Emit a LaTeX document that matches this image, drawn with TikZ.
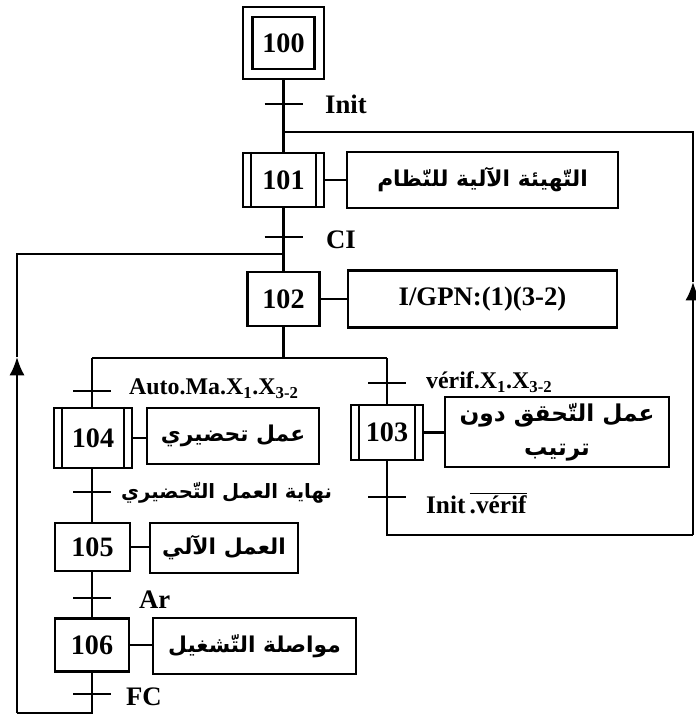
\documentclass[tikz,border=0pt]{standalone}
\usepackage{fontspec}
\setmainfont{Liberation Serif}
\newfontfamily\arabicfont[Script=Arabic]{DejaVu Sans}
\TeXXeTstate=1
\usetikzlibrary{arrows.meta}
\tikzset{>={Latex[length=0.46cm,width=0.38cm]}}

\begin{document}
\begin{tikzpicture}[x=0.025cm, y=-0.025cm, line width=1.6pt,
	etape/.style={draw, fill=white, inner sep=0pt, font=\fontsize{20}{22}\selectfont\bfseries},
	action/.style={draw, inner sep=0pt, align=center, font=\arabicfont\bfseries\fontsize{15.5}{22}\selectfont},
	recept/.style={anchor=west, inner sep=0pt, font=\fontsize{19}{22}\selectfont\bfseries}]

\def\px{0.025cm}
\def\hw{19}
\def\ins{9}

\useasboundingbox (0,0) rectangle (696,717);

% Steps
\node[etape, minimum width=81*\px, minimum height=72*\px] (s100o) at (283.5,43){};
\node[etape, minimum width=62*\px, minimum height=52*\px] (s100) at (283.5,43){100};
\node[etape, minimum width=81*\px, minimum height=54*\px] (s101) at (283.5,180){101};
\node[etape, minimum width=72*\px, minimum height=54*\px] (s102) at (283.5,299){102};
\node[etape, minimum width=72*\px, minimum height=55*\px] (s103) at (387,432.5){103};
\node[etape, minimum width=78*\px, minimum height=60*\px] (s104) at (93,438){104};
\node[etape, minimum width=75*\px, minimum height=48*\px] (s105) at (92.5,547){105};
\node[etape, minimum width=74*\px, minimum height=53*\px] (s106) at (92,645){106};

\foreach \s in {s101,s103,s104}{
	\draw ([xshift=\ins*\px]\s.north west) -- ([xshift=\ins*\px]\s.south west);
	\draw ([xshift=-\ins*\px]\s.north east) -- ([xshift=-\ins*\px]\s.south east);
}

% Actions
\node[action, minimum width=271*\px, minimum height=56*\px] (a101) at (482.5,180){\beginR التّهيئة الآلية للنّظام\endR};
\node[action, minimum width=269*\px, minimum height=57*\px, font=\fontsize{19}{22}\selectfont\bfseries] (a102) at (482.5,299){I/GPN:(1)(3-2)};
\node[action, minimum width=224*\px, minimum height=70*\px, font=\arabicfont\bfseries\fontsize{16.5}{24}\selectfont] (a103) at (557,432){\beginR عمل التّحقق دون\endR\\\beginR ترتيب\endR};
\node[action, minimum width=172*\px, minimum height=56*\px] (a104) at (233,436){\beginR عمل تحضيري\endR};
\node[action, minimum width=148*\px, minimum height=50*\px] (a105) at (224,548){\beginR العمل الآلي\endR};
\node[action, minimum width=203*\px, minimum height=56*\px] (a106) at (254.5,646){\beginR مواصلة التّشغيل\endR};

\foreach \s/\a in {s101/a101,s102/a102,s103/a103,s104/a104,s105/a105,s106/a106}{
	\draw (\s.east) -- (\s.east -| \a.west);
}

% Transitions
\coordinate (t100) at (283.5,104);
\coordinate (t101) at (283.5,237);
\coordinate (t102a) at (92,391);
\coordinate (t102b) at (387,383);
\coordinate (t104) at (92,492);
\coordinate (t103) at (387,497);
\coordinate (t105) at (92,598);
\coordinate (t106) at (92,694);

\foreach \t in {t100,t101,t102a,t102b,t104,t103,t105,t106}{
	\draw (\t) ++(-\hw,0) -- ++(2*\hw,0);
}

\node[recept] (r100) at (324,104){Init};
\node[recept] (r101) at (325,240){CI};
\node[recept, font=\fontsize{17}{20}\selectfont\bfseries] (r102a) at (128,389){Auto.Ma.X\textsubscript{1}.X\textsubscript{3-2}};
\node[recept, font=\fontsize{17}{20}\selectfont\bfseries] (r102b) at (425,382){vérif.X\textsubscript{1}.X\textsubscript{3-2}};
\node[recept, font=\arabicfont\bfseries\fontsize{14}{20}\selectfont] (r104) at (120,493){\beginR نهاية العمل التّحضيري\endR};
\node[recept, font=\fontsize{18}{22}\selectfont\bfseries] (r103) at (425,503){Init\,$\overline{\mbox{.vérif}}$};
\node[recept] (r105) at (138,600){Ar};
\node[recept] (r106) at (125,697){FC};

% Links
\coordinate (d102) at (283.5,358);
\coordinate (bl) at (92,358);
\coordinate (br) at (387,358);

\draw (s100o) -- (s101);
\draw (s101) -- (s102);
\draw (s102) -- (d102);
\draw (bl) -- (br);
\draw (bl) -- (s104.north -| bl);
\draw (s104.south -| bl) -- (s105.north -| bl);
\draw (s105.south -| bl) -- (s106.north -| bl);
\draw (br) -- (s103);

% Return 106 -> 102
\coordinate (g1) at (92,713);
\coordinate (g2) at (17,713);
\coordinate (g3) at (17,357);
\coordinate (g4) at (17,254);
\coordinate (g5) at (283.5,254);
\draw (s106.south -| g1) -- (g1) -- (g2);
\draw[->] (g2) -- (g3);
\draw (g3) -- (g4) -- (g5);

% Return 103 -> 101
\coordinate (h1) at (387,535);
\coordinate (h2) at (693,535);
\coordinate (h3) at (693,282);
\coordinate (h4) at (693,132);
\coordinate (h5) at (283.5,132);
\draw (s103) -- (h1) -- (h2);
\draw[->] (h2) -- (h3);
\draw (h3) -- (h4) -- (h5);

\end{tikzpicture}
\end{document}
